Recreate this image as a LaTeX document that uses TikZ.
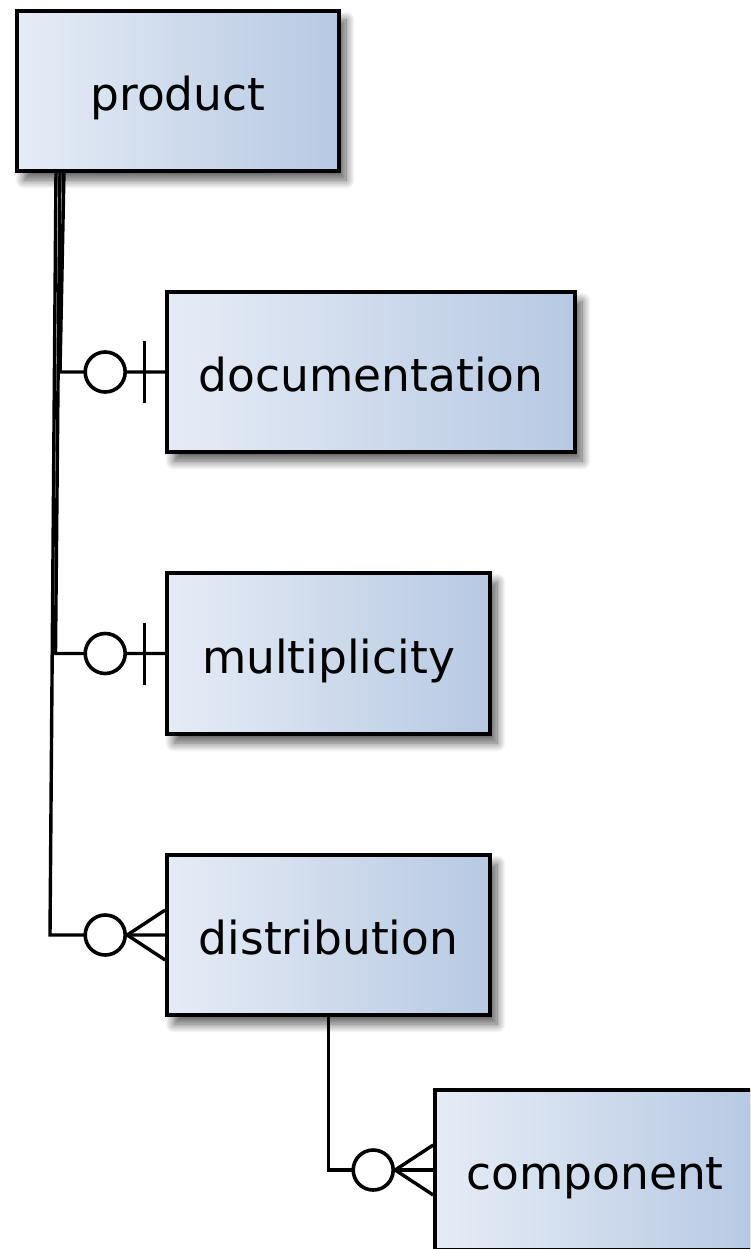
\documentclass[tikz,border=0pt]{standalone}
\usepackage{fontspec}
\setmainfont{DejaVu Sans}
\usetikzlibrary{calc,shadows.blur}
\definecolor{boxlight}{RGB}{230,236,246}
\definecolor{boxdark}{RGB}{183,201,227}
\begin{document}
\begin{tikzpicture}[x=1pt,y=-1pt,
  entity/.style={draw=black, line width=3.6pt, rectangle, inner sep=0pt,
    left color=boxlight, right color=boxdark,
    font=\fontsize{45.5}{54}\selectfont, text height=39pt, text depth=0pt,
    blur shadow={shadow xshift=7pt, shadow yshift=-9pt, shadow blur radius=9pt, shadow blur steps=12, shadow opacity=65}},
  conn/.style={draw=black, line width=3.4pt},
  zerocirc/.style={draw=black, line width=3.6pt, fill=white}]
\useasboundingbox (0,0) rectangle (750,1249);
\clip (0,0) rectangle (750,1249);
\node[entity, minimum width=322pt, minimum height=160pt] (product) at (178,91) {product};
\node[entity, minimum width=408pt, minimum height=160pt] (documentation) at (371,372) {documentation};
\node[entity, minimum width=323pt, minimum height=161pt] (multiplicity) at (328.5,653.5) {multiplicity};
\node[entity, minimum width=323pt, minimum height=160pt] (distribution) at (328.5,935) {distribution};
\node[entity, minimum width=320pt, minimum height=160pt] (component) at (595,1170) {component};
% product -> documentation (zero or one)
\draw[conn] (64,171) -- (60,0 |- documentation.west) -- (documentation.west);
\draw[zerocirc] ($(documentation.west)+(-60,0)$) circle (20);
\draw[conn] ($(documentation.west)+(-21,-31)$) -- ($(documentation.west)+(-21,31)$);
% product -> multiplicity (zero or one)
\draw[conn] (60,171) -- (55.5,0 |- multiplicity.west) -- (multiplicity.west);
\draw[zerocirc] ($(multiplicity.west)+(-60,0)$) circle (20);
\draw[conn] ($(multiplicity.west)+(-21,-31)$) -- ($(multiplicity.west)+(-21,31)$);
% product -> distribution (zero or many)
\draw[conn] (56,171) -- (50,0 |- distribution.west) -- (distribution.west);
\draw[zerocirc] ($(distribution.west)+(-60,0)$) circle (20);
\draw[conn] ($(distribution.west)+(0,-25)$) -- ($(distribution.west)+(-38,0)$) -- ($(distribution.west)+(0,25)$);
% distribution -> component (zero or many)
\draw[conn] (distribution.south) -- (distribution.south |- component.west) -- (component.west);
\draw[zerocirc] ($(component.west)+(-60,0)$) circle (20);
\draw[conn] ($(component.west)+(0,-25)$) -- ($(component.west)+(-38,0)$) -- ($(component.west)+(0,25)$);
\end{tikzpicture}
\end{document}
